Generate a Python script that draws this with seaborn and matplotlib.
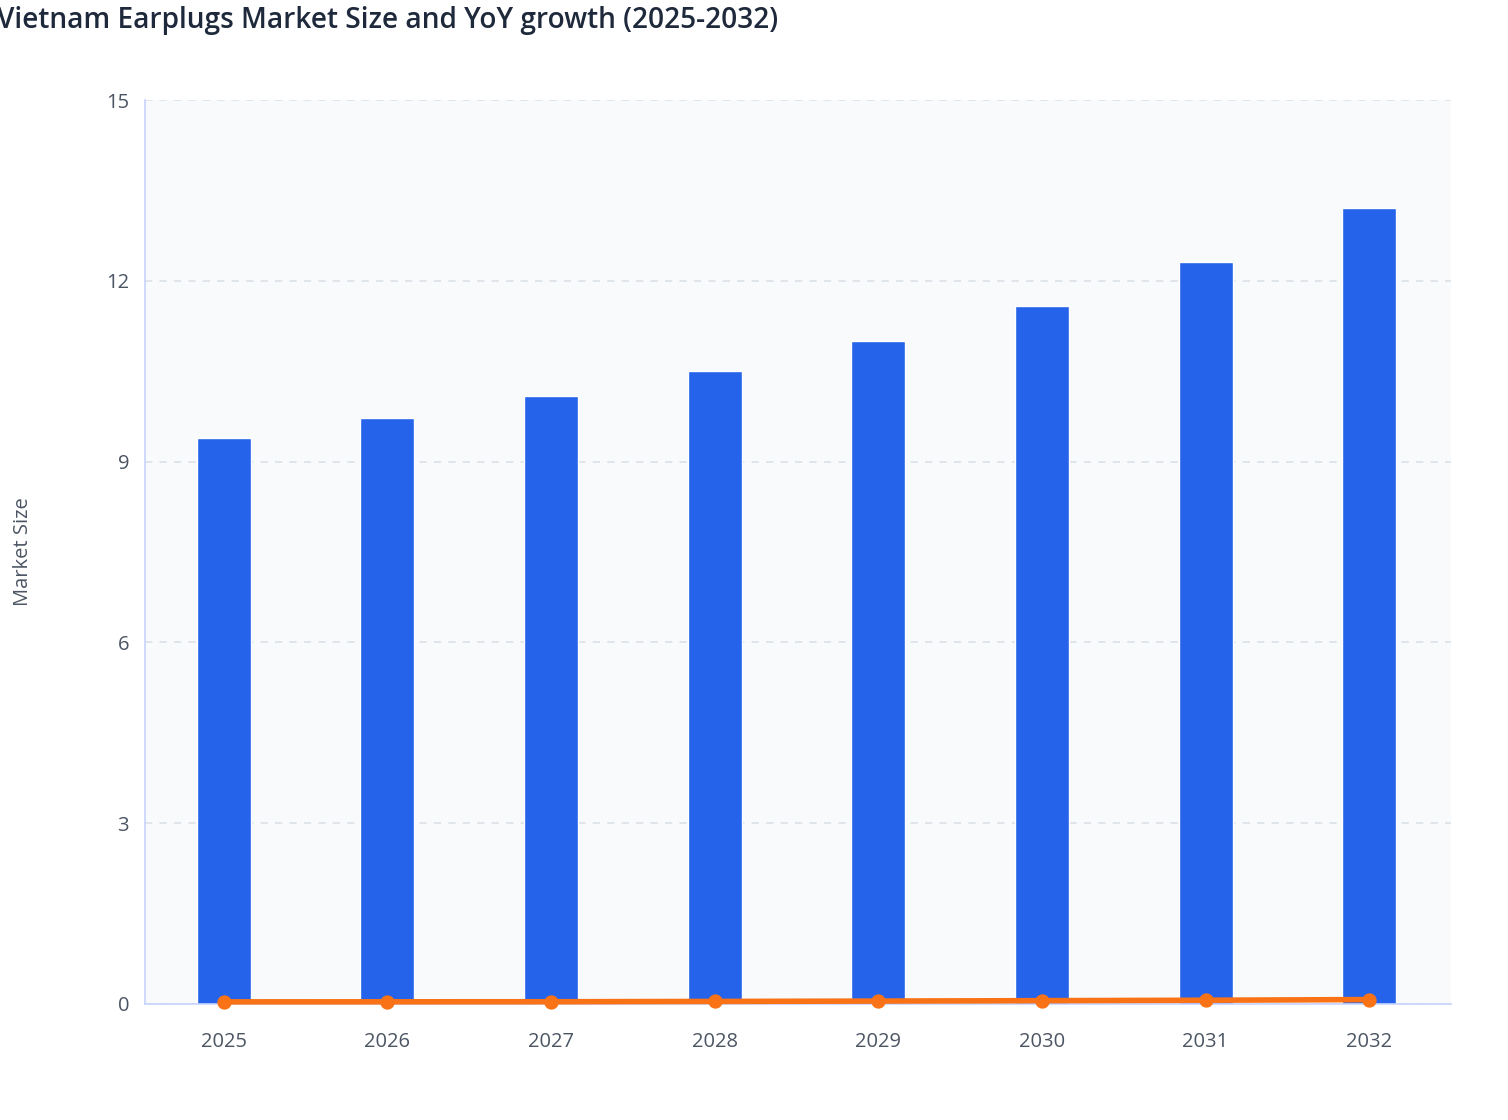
import matplotlib
matplotlib.use("Agg")
import matplotlib.pyplot as plt
import seaborn as sns
import pandas as pd

# chart data
years = ["2025", "2026", "2027", "2028", "2029", "2030", "2031", "2032"]
market_size = [9.39, 9.72, 10.09, 10.51, 11.0, 11.59, 12.31, 13.21]
yoy_growth = [0.035, 0.036, 0.037, 0.042, 0.048, 0.055, 0.062, 0.073]
y_ticks = [0, 3, 6, 9, 12, 15]

df = pd.DataFrame({"year": years, "size": market_size, "growth": yoy_growth})

sns.set_style("white")
plt.rcParams["font.family"] = ["Open Sans", "DejaVu Sans"]

fig = plt.figure(figsize=(15.08, 11.2), dpi=100)
ax = fig.add_axes([0.0962, 0.1036, 0.866, 0.8071])
ax.set_facecolor("#F8FAFC")

sns.barplot(data=df, x="year", y="size", color="#2563EB", width=0.33,
            saturation=1, ax=ax, zorder=2)
sns.pointplot(data=df, x="year", y="growth", color="#F97316", markers="o",
              markersize=7.3, linewidth=4, ax=ax, zorder=3)
# growth markers sit on the axis line, keep them whole
for line in ax.lines:
    line.set_clip_on(False)

ax.set_xlim(-0.48, 7.5)
ax.set_ylim(0, 15)
ax.set_yticks(y_ticks)
ax.yaxis.grid(True, linestyle=(0, (4, 4)), color="#DDE3EA", linewidth=1.3, zorder=0)
ax.set_axisbelow(True)

for side in ["top", "right"]:
    ax.spines[side].set_visible(False)
for side in ["left", "bottom"]:
    ax.spines[side].set_color("#C7D2FE")
    ax.spines[side].set_linewidth(1.2)

ax.tick_params(axis="both", colors="#C7D2FE", length=8, width=1.2,
               labelcolor="#4B5563", labelsize=14.5)
ax.tick_params(axis="x", pad=12)

ax.set_xlabel("")
ax.set_ylabel("Market Size", color="#4B5563", fontsize=14.5, labelpad=0)
ax.yaxis.set_label_coords(-0.086, 0.5)

fig.text(-0.002, 0.982, "Vietnam Earplugs Market Size and YoY growth (2025-2032)",
         fontsize=20.2, fontweight="semibold", color="#1E293B", ha="left", va="center")

fig.savefig("out.png", dpi=100)
